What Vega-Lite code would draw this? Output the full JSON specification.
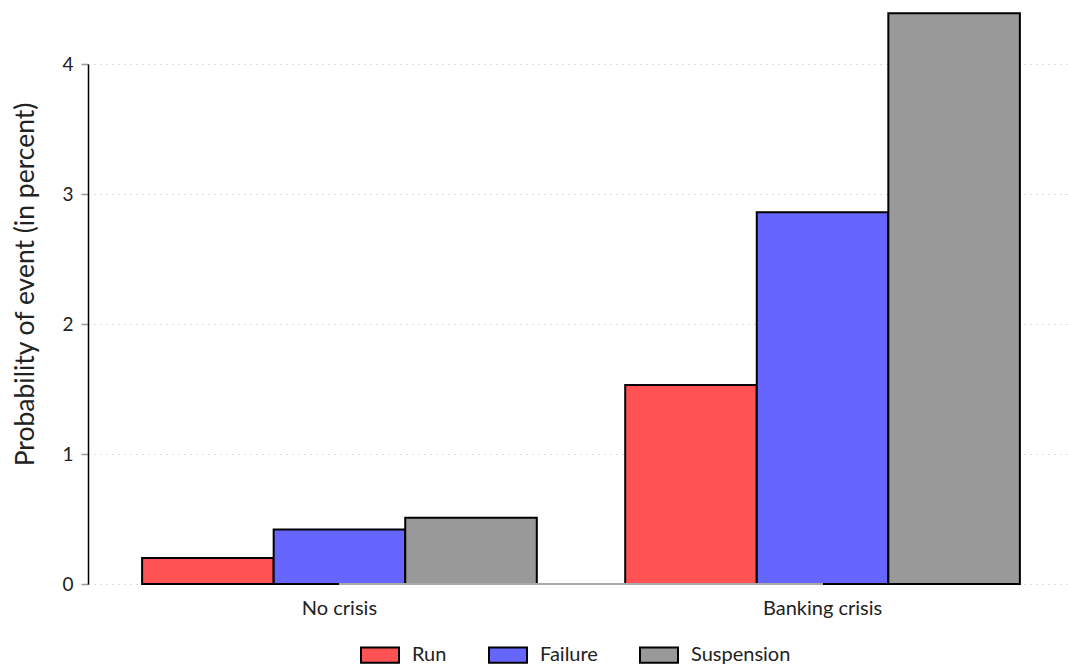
{
  "$schema": "https://vega.github.io/schema/vega-lite/v6.json",
  "width": 986,
  "height": 520,
  "autosize": "none",
  "padding": {"left": 88, "top": 64, "right": 0, "bottom": 84},
  "background": "white",
  "config": {
    "font": "Lato",
    "view": {"stroke": null}
  },
  "data": {
    "values": [
      {"state": "No crisis", "event": "Run", "pct": 0.20},
      {"state": "No crisis", "event": "Failure", "pct": 0.42},
      {"state": "No crisis", "event": "Suspension", "pct": 0.51},
      {"state": "Banking crisis", "event": "Run", "pct": 1.53},
      {"state": "Banking crisis", "event": "Failure", "pct": 2.86},
      {"state": "Banking crisis", "event": "Suspension", "pct": 4.39}
    ]
  },
  "layer": [
    {
      "mark": {"type": "bar", "stroke": "black", "strokeWidth": 2, "opacity": 1, "clip": false},
      "encoding": {
        "x": {
          "field": "state", "type": "nominal",
          "sort": ["No crisis", "Banking crisis"],
          "scale": {"paddingInner": 0.183, "paddingOuter": 0.112},
          "axis": {"title": null, "domain": false, "ticks": false, "labelAngle": 0,
                   "labelFontSize": 20, "labelColor": "#222", "labelPadding": 14}
        },
        "xOffset": {"field": "event", "type": "nominal", "sort": ["Run", "Failure", "Suspension"], "scale": {"paddingInner": 0, "paddingOuter": 0}},
        "y": {
          "field": "pct", "type": "quantitative",
          "scale": {"domain": [0, 4], "nice": false, "zero": true},
          "axis": {
            "title": "Probability of event (in percent)",
            "titleFontSize": 26.5, "titleFontWeight": "normal", "titleColor": "#222", "titlePadding": 22, "titleY": 220,
            "values": [0, 1, 2, 3, 4], "format": "d",
            "labelFontSize": 19, "labelColor": "#222", "labelPadding": 8,
            "domainColor": "black", "domainWidth": 1.5,
            "tickColor": "#999", "tickSize": 7, "tickWidth": 1.5,
            "grid": true, "gridColor": "#bbb", "gridDash": [1, 5], "gridWidth": 1.2
          }
        },
        "fill": {
          "field": "event", "type": "nominal",
          "sort": ["Run", "Failure", "Suspension"],
          "scale": {"domain": ["Run", "Failure", "Suspension"], "range": ["#ff5252", "#6666ff", "#999999"]},
          "legend": {
            "title": null, "orient": "none", "legendX": 272, "legendY": 571, "direction": "horizontal",
            "symbolType": "M-1,-0.4H1V0.4H-1Z", "symbolSize": 1444, "symbolStrokeColor": "black", "symbolStrokeWidth": 2,
            "symbolOpacity": 1,
            "labelFontSize": 20, "labelColor": "#222", "labelOffset": 12, "columnPadding": 38
          }
        }
      }
    },
    {
      "mark": {"type": "rule", "color": "#aaa", "strokeWidth": 2},
      "encoding": {
        "x": {"datum": "No crisis", "type": "nominal"},
        "x2": {"datum": "Banking crisis"},
        "y": {"datum": 0, "type": "quantitative"}
      }
    }
  ]
}
